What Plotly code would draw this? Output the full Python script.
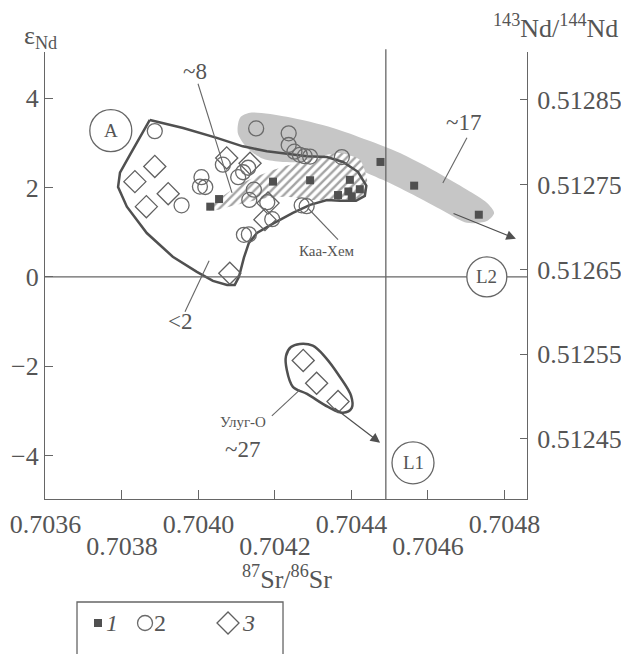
import plotly.graph_objects as go

# ---------------- data ----------------
# series 1 (filled squares)
sr_1 = [0.704031, 0.704054, 0.704195, 0.704292, 0.704396, 0.704365, 0.704392,
        0.704422, 0.704401, 0.704476, 0.704564, 0.704733]
nd_1 = [1.57, 1.74, 2.13, 2.16, 2.17, 1.83, 1.91, 1.96, 1.80, 2.57, 2.04, 1.39]

# series 2 (open circles)
sr_2 = [0.703886, 0.704151, 0.704236, 0.704236, 0.704251, 0.704265, 0.704278,
        0.704292, 0.704375, 0.704064, 0.704104, 0.704117, 0.704130, 0.704008,
        0.704004, 0.704018, 0.703956, 0.704145, 0.704133, 0.704180, 0.704193,
        0.704119, 0.704132, 0.704270, 0.704283]
nd_2 = [3.26, 3.32, 3.21, 2.95, 2.80, 2.73, 2.70, 2.69, 2.68, 2.51, 2.23, 2.34,
        2.44, 2.23, 2.02, 2.01, 1.60, 1.95, 1.72, 1.67, 1.29, 0.94, 0.95, 1.60, 1.58]

# series 3 (open diamonds)
sr_3 = [0.703834, 0.703886, 0.703921, 0.703864, 0.704074, 0.704135, 0.704182,
        0.704174, 0.704082, 0.704274, 0.704309, 0.704365]
nd_3 = [2.13, 2.47, 1.86, 1.57, 2.66, 2.54, 1.65, 1.28, 0.08, -1.87, -2.38, -2.79]

# field A outline
field_a_sr = [0.703873, 0.703960, 0.704048, 0.704116, 0.704179, 0.704231, 0.704284,
              0.704336, 0.704378, 0.704417, 0.704439, 0.704435, 0.704412, 0.704370,
              0.704336, 0.704292, 0.704247, 0.704195, 0.704153, 0.704132, 0.704119,
              0.704106, 0.704095, 0.704075, 0.704038, 0.703996, 0.703933, 0.703865,
              0.703813, 0.703790, 0.703795, 0.703821, 0.703873]
field_a_nd = [3.51, 3.33, 3.11, 2.92, 2.81, 2.75, 2.70, 2.68, 2.57, 2.35, 2.04, 1.81,
              1.70, 1.70, 1.72, 1.61, 1.43, 1.19, 0.98, 0.76, 0.43, 0.00, -0.18, -0.18,
              -0.09, 0.11, 0.45, 0.98, 1.57, 2.01, 2.33, 2.73, 3.51]

# shaded trend (~17)
shade_sr = [0.704109, 0.704135, 0.704231, 0.704352, 0.704441, 0.704527, 0.704613,
            0.704702, 0.704754, 0.704773, 0.704754, 0.704702, 0.704650, 0.704571,
            0.704482, 0.704396, 0.704310, 0.704221, 0.704169, 0.704127, 0.704103,
            0.704109]
shade_nd = [3.56, 3.67, 3.58, 3.33, 3.06, 2.77, 2.39, 1.95, 1.66, 1.43, 1.25, 1.21,
            1.43, 1.79, 2.17, 2.46, 2.55, 2.57, 2.64, 2.89, 3.22, 3.56]

# hatched field (~8)
hatch_sr = [0.704022, 0.704116, 0.704195, 0.704265, 0.704336, 0.704370, 0.704422,
            0.704441, 0.704433, 0.704370, 0.704299, 0.704231, 0.704161, 0.704090,
            0.704038, 0.704022]
hatch_nd = [1.52, 2.10, 2.39, 2.57, 2.73, 2.77, 2.62, 2.17, 1.79, 1.72, 1.72, 1.79,
            1.74, 1.59, 1.48, 1.52]

# Ulug-O field
ulug_sr = [0.704265, 0.704299, 0.704331, 0.704370, 0.704399, 0.704401, 0.704378,
           0.704339, 0.704284, 0.704247, 0.704231, 0.704229, 0.704242, 0.704265]
ulug_nd = [-1.50, -1.54, -1.79, -2.24, -2.66, -2.93, -3.04, -2.91, -2.62, -2.46,
           -2.08, -1.77, -1.57, -1.50]

# reference lines
L1_SR = 0.70449
L2_ND = 0.0

# axis ticks
x_ticks = [0.7036, 0.7038, 0.7040, 0.7042, 0.7044, 0.7046, 0.7048]
x_row1 = ["0.7036", "", "0.7040", "", "0.7044", "", "0.7048"]
x_ticks_row2 = [0.7038, 0.7042, 0.7046]
x_row2 = ["0.7038", "0.7042", "0.7046"]
y_ticks = [-4, -2, 0, 2, 4]
y_text = ["\u22124", "\u22122", "0", "2", "4"]
nd_ratio_ticks = [0.51245, 0.51255, 0.51265, 0.51275, 0.51285]
nd_ratio_text = ["0.51245", "0.51255", "0.51265", "0.51275", "0.51285"]

X_RANGE = [0.703599, 0.704859]
Y_RANGE = [-4.97, 5.03]
Y2_RANGE = [0.5123792, 0.5129066]

# ---------------- styling ----------------
FONT = "Liberation Serif"
TXT = "#555555"
LINE = "#666666"
DARK = "#505050"
MK2 = "#6a6a6a"
MK3 = "#606060"

fig = go.Figure()

# shaded trend
fig.add_trace(go.Scatter(x=shade_sr, y=shade_nd, mode="lines", fill="toself",
                         fillcolor="#c6c6c6", line=dict(width=0, shape="spline", smoothing=0.8),
                         hoverinfo="skip", showlegend=False))
# hatched field
fig.add_trace(go.Scatter(x=hatch_sr, y=hatch_nd, mode="lines", fill="toself",
                         fillcolor="white",
                         fillpattern=dict(shape="/", size=6, solidity=0.4,
                                          fgcolor="#484848", bgcolor="white"),
                         line=dict(width=0, shape="spline", smoothing=0.6),
                         hoverinfo="skip", showlegend=False))
# field A outline
fig.add_trace(go.Scatter(x=field_a_sr, y=field_a_nd, mode="lines",
                         line=dict(color=DARK, width=2.5),
                         hoverinfo="skip", showlegend=False))
# Ulug-O outline
fig.add_trace(go.Scatter(x=ulug_sr, y=ulug_nd, mode="lines",
                         line=dict(color=DARK, width=2.5, shape="spline", smoothing=1.0),
                         hoverinfo="skip", showlegend=False))

# data series
fig.add_trace(go.Scatter(x=sr_3, y=nd_3, mode="markers", name="3",
                         marker=dict(symbol="diamond-open", size=17, color=MK3,
                                     line=dict(color=MK3, width=1.3)),
                         showlegend=False))
fig.add_trace(go.Scatter(x=sr_2, y=nd_2, mode="markers", name="2",
                         marker=dict(symbol="circle-open", size=15, color=MK2,
                                     line=dict(color=MK2, width=1.3)),
                         showlegend=False))
fig.add_trace(go.Scatter(x=sr_1, y=nd_1, mode="markers", name="1",
                         marker=dict(symbol="square", size=8, color=DARK,
                                     line=dict(width=0)),
                         showlegend=False))

# invisible helpers for secondary axes
fig.add_trace(go.Scatter(x=x_ticks_row2, y=[0, 0, 0], xaxis="x2", yaxis="y",
                         mode="markers", marker=dict(opacity=0), hoverinfo="skip",
                         showlegend=False))
fig.add_trace(go.Scatter(x=[X_RANGE[0]] * 5, y=nd_ratio_ticks, xaxis="x", yaxis="y2",
                         mode="markers", marker=dict(opacity=0), hoverinfo="skip",
                         showlegend=False))

# reference lines L1 / L2
fig.add_shape(type="line", xref="x", yref="paper", x0=L1_SR, x1=L1_SR, y0=0, y1=1.006,
              line=dict(color=LINE, width=1.3))
fig.add_shape(type="line", xref="paper", yref="y", x0=0, x1=1, y0=L2_ND, y1=L2_ND,
              line=dict(color=LINE, width=1.3))


def ring(x, y, r, text, size):
    fig.add_shape(type="circle", xref="x", yref="y", xsizemode="pixel", ysizemode="pixel",
                  xanchor=x, yanchor=y, x0=-r, x1=r, y0=-r, y1=r,
                  line=dict(color=LINE, width=1.3), fillcolor="white")
    fig.add_annotation(x=x, y=y, text=text, showarrow=False, xanchor="center",
                       yanchor="middle", font=dict(family=FONT, size=size, color=TXT))


ring(0.703771, 3.27, 21, "A", 19)
ring(0.704754, 0.0, 20, "L2", 19)
ring(0.704561, -4.16, 21, "L1", 19)


def leader(x0, y0, x1, y1):
    fig.add_shape(type="line", xref="x", yref="y", x0=x0, y0=y0, x1=x1, y1=y1,
                  line=dict(color=LINE, width=1.1))


def label(x, y, text, size):
    fig.add_annotation(x=x, y=y, text=text, showarrow=False, xanchor="center",
                       yanchor="middle", font=dict(family=FONT, size=size, color=TXT))


label(0.703991, 4.59, "~8", 23)
leader(0.703999, 4.32, 0.704088, 1.88)
label(0.704692, 3.45, "~17", 23)
leader(0.704702, 3.11, 0.704639, 2.10)
label(0.703952, -1.01, "&lt;2", 23)
leader(0.704028, 0.36, 0.703965, -0.78)
label(0.704336, 0.58, "Каа-Хем", 15)
leader(0.704286, 1.54, 0.704365, 0.83)
label(0.704116, -3.24, "Улуг-О", 15)
leader(0.704192, -3.11, 0.704265, -2.53)
label(0.704114, -3.87, "~27", 23)

# trend arrows
for tail, head in [((0.704663, 1.43), (0.704830, 0.85)),
                   ((0.704352, -2.91), (0.704475, -3.71))]:
    fig.add_annotation(x=head[0], y=head[1], ax=tail[0], ay=tail[1],
                       xref="x", yref="y", axref="x", ayref="y", text="",
                       showarrow=True, arrowhead=2, arrowsize=1.6, arrowwidth=1.2,
                       arrowcolor=DARK)


def paper_text(x, y, text, size, xanchor="center", italic=False):
    fig.add_annotation(xref="paper", yref="paper", x=x, y=y, text=text, showarrow=False,
                       xanchor=xanchor, yanchor="middle",
                       font=dict(family=FONT, size=size, color=TXT,
                                 style="italic" if italic else "normal"))


# axis titles
paper_text(-0.010, 1.034, "ε<sub>Nd</sub>", 26)
paper_text(0.925, 1.056, "<sup>143</sup>Nd/<sup>144</sup>Nd", 26, xanchor="left")
paper_text(0.503, -0.175, "<sup>87</sup>Sr/<sup>86</sup>Sr", 26)

# legend box (manual)
fig.add_shape(type="rect", xref="paper", yref="paper", x0=0.0664, x1=0.4938,
              y0=-0.40, y1=-0.2304, line=dict(color=LINE, width=1.3))
LY = -0.2774
fig.add_shape(type="rect", xref="paper", yref="paper", xsizemode="pixel", ysizemode="pixel",
              xanchor=0.110, yanchor=LY, x0=-4, x1=4, y0=-4, y1=4,
              fillcolor=DARK, line=dict(width=0))
fig.add_shape(type="circle", xref="paper", yref="paper", xsizemode="pixel", ysizemode="pixel",
              xanchor=0.2075, yanchor=LY, x0=-7.5, x1=7.5, y0=-7.5, y1=7.5,
              line=dict(color=MK2, width=1.3))
fig.add_shape(type="path", xref="paper", yref="paper", xsizemode="pixel", ysizemode="pixel",
              xanchor=0.3797, yanchor=LY, path="M -11 0 L 0 11 L 11 0 L 0 -11 Z",
              line=dict(color=MK3, width=1.3))
paper_text(0.1224, LY, "1", 24, xanchor="left", italic=True)
paper_text(0.222, LY, "2", 24, xanchor="left")
paper_text(0.4046, LY, "3", 24, xanchor="left", italic=True)

tickfont = dict(family=FONT, size=26, color=TXT)
common = dict(showgrid=False, zeroline=False, automargin=False, tickfont=tickfont)
# the page body adds an 8 px offset, so the figure is 8 px smaller than the window
fig.update_layout(
    width=621, height=646,
    margin=dict(l=37, r=102, t=44, b=155, autoexpand=False),
    paper_bgcolor="white", plot_bgcolor="white",
    showlegend=False,
    xaxis=dict(range=X_RANGE, tickvals=x_ticks, ticktext=x_row1, ticks="inside",
               ticklen=9, tickcolor=LINE, tickwidth=1.3, showline=True, linecolor=LINE,
               linewidth=1.3, ticklabelstandoff=2, **common),
    xaxis2=dict(range=X_RANGE, overlaying="x", anchor="y", side="bottom",
                tickvals=x_ticks_row2, ticktext=x_row2, ticks="", showline=False,
                ticklabelstandoff=29, **common),
    yaxis=dict(range=Y_RANGE, tickvals=y_ticks, ticktext=y_text, ticks="inside",
               ticklen=8, tickcolor=LINE, tickwidth=1.3, showline=True, linecolor=LINE,
               linewidth=1.3, ticklabelstandoff=0, **common),
    yaxis2=dict(range=Y2_RANGE, overlaying="y", anchor="x", side="right",
                tickvals=nd_ratio_ticks, ticktext=nd_ratio_text, ticks="inside",
                ticklen=7, tickcolor=LINE, tickwidth=1.3, showline=True, linecolor=LINE,
                linewidth=1.3, ticklabelstandoff=4, **common),
)

fig.write_html("out.html")
